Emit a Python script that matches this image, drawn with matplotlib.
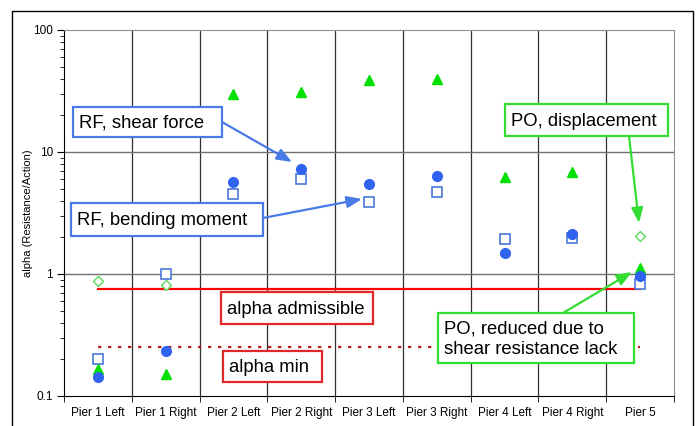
import numpy as np
import matplotlib
matplotlib.use("Agg")
import matplotlib.pyplot as plt
from matplotlib.patches import Rectangle
from matplotlib.ticker import LogLocator, NullFormatter

plt.rcParams["font.family"] = ["Liberation Sans", "DejaVu Sans"]

piers = ["Pier 1 Left", "Pier 1 Right", "Pier 2 Left", "Pier 2 Right", "Pier 3 Left",
         "Pier 3 Right", "Pier 4 Left", "Pier 4 Right", "Pier 5"]
rf_shear = [0.143, 0.232, 5.7, 7.2, 5.5, 6.3, 1.49, 2.14, 0.96]
rf_bending = [0.20, 1.0, 4.5, 6.0, 3.9, 4.7, 1.94, 1.97, 0.83]
po_shear = [0.167, 0.152, 30.0, 31.0, 38.7, 39.6, 6.2, 6.9, 1.12]
po_disp = [0.88, 0.82, np.nan, np.nan, np.nan, np.nan, np.nan, np.nan, 2.04]
alpha_adm = 0.76
alpha_min = 0.25

W, H = 700, 426
fig = plt.figure(figsize=(7.0, 4.26), dpi=100)


def fx(px):
    return px / W


def fy(py):
    return 1 - py / H


ax = fig.add_axes([fx(64), fy(396), fx(674) - fx(64), fy(30) - fy(396)])
x = np.arange(len(piers))

ax.set_yscale("log")
ax.set_ylim(0.1, 100)
ax.set_xlim(-0.5, len(piers) - 0.5)

# grid: vertical at category boundaries, horizontal at decades
for b in np.arange(0.5, len(piers) - 0.5, 1.0):
    ax.axvline(b, color="#303030", lw=0.9, zorder=1)
for d in [1, 10]:
    ax.axhline(d, color="#707070", lw=1.0, zorder=1)

ax.plot([0, 8], [alpha_adm, alpha_adm], color="#ff0000", lw=1.6, zorder=2)
ax.plot([0, 8], [alpha_min, alpha_min], color="#b82020", lw=1.6,
        linestyle=(0, (1.5, 3.0)), zorder=2)

ax.plot(x, rf_bending, "s", ms=6.5, mfc="white", mec="#4a78d8", mew=1.2, ls="none", zorder=3)
ax.plot(x, po_shear, "^", ms=7.5, color="#00e000", ls="none", zorder=4)
ax.plot(x, rf_shear, "o", ms=7, color="#2f63f0", ls="none", zorder=5)
ax.plot(x, po_disp, "D", ms=5.5, mfc="white", mec="#5ad85a", mew=1.0, ls="none", zorder=6)

ax.set_xticks(x)
ax.set_xticklabels(piers, fontsize=8.5)
ax.tick_params(axis="x", which="major", length=0, pad=8)
ax.set_xticks(np.arange(-0.5, len(piers), 1.0), minor=True)
ax.tick_params(axis="x", which="minor", length=4, color="black")

ax.set_yticks([0.1, 1, 10, 100])
ax.set_yticklabels(["0.1", "1", "10", "100"], fontsize=8.5)
ax.yaxis.set_minor_locator(LogLocator(base=10, subs=np.arange(2, 10), numticks=10))
ax.yaxis.set_minor_formatter(NullFormatter())
ax.tick_params(axis="y", which="major", length=5, color="black", pad=3)
ax.tick_params(axis="y", which="minor", length=3, color="black")
ax.set_ylabel("alpha (Resistance/Action)", fontsize=8, labelpad=0)

ax.spines["left"].set_color("black")
ax.spines["bottom"].set_color("black")
ax.spines["top"].set_color("#909090")
ax.spines["right"].set_color("#909090")

# outer frame
fig.add_artist(Rectangle((fx(12), fy(440)), fx(693) - fx(12), fy(11) - fy(440),
                         transform=fig.transFigure, fill=False, ec="black", lw=1.0))

BLUE = "#4a7ae6"
GREEN = "#33dd33"
RED = "#e02828"


def box(x0, y0, x1, y1, text, color):
    fig.add_artist(Rectangle((fx(x0), fy(y1)), fx(x1) - fx(x0), fy(y0) - fy(y1),
                             transform=fig.transFigure, fc="white", ec=color, lw=1.6,
                             zorder=10))
    fig.text(fx(x0 + 6), fy((y0 + y1) / 2 + 1), text, fontsize=13.3, ha="left", va="center",
             linespacing=1.3, zorder=11)


def arrow(sx, sy, tx, ty, color):
    ax.annotate("", xy=(fx(tx), fy(ty)), xytext=(fx(sx), fy(sy)),
                xycoords="figure fraction", textcoords="figure fraction",
                arrowprops=dict(arrowstyle="-|>,head_length=0.9,head_width=0.35",
                                color=color, lw=1.6, shrinkA=0, shrinkB=0),
                zorder=9)


arrow(222, 122, 292, 162, BLUE)
arrow(263, 218, 362, 199, BLUE)
arrow(629, 136, 639, 223, GREEN)
arrow(563, 313, 632, 272, GREEN)

box(73, 107, 222, 137, "RF, shear force", BLUE)
box(71, 203, 263, 236, "RF, bending moment", BLUE)
box(505, 104, 668, 136, "PO, displacement", GREEN)
box(221, 292, 373, 324, "alpha admissible", RED)
box(223, 351, 322, 382, "alpha min", RED)
box(438, 313, 634, 363, "PO, reduced due to\nshear resistance lack", GREEN)

fig.savefig("out.png", dpi=100)
